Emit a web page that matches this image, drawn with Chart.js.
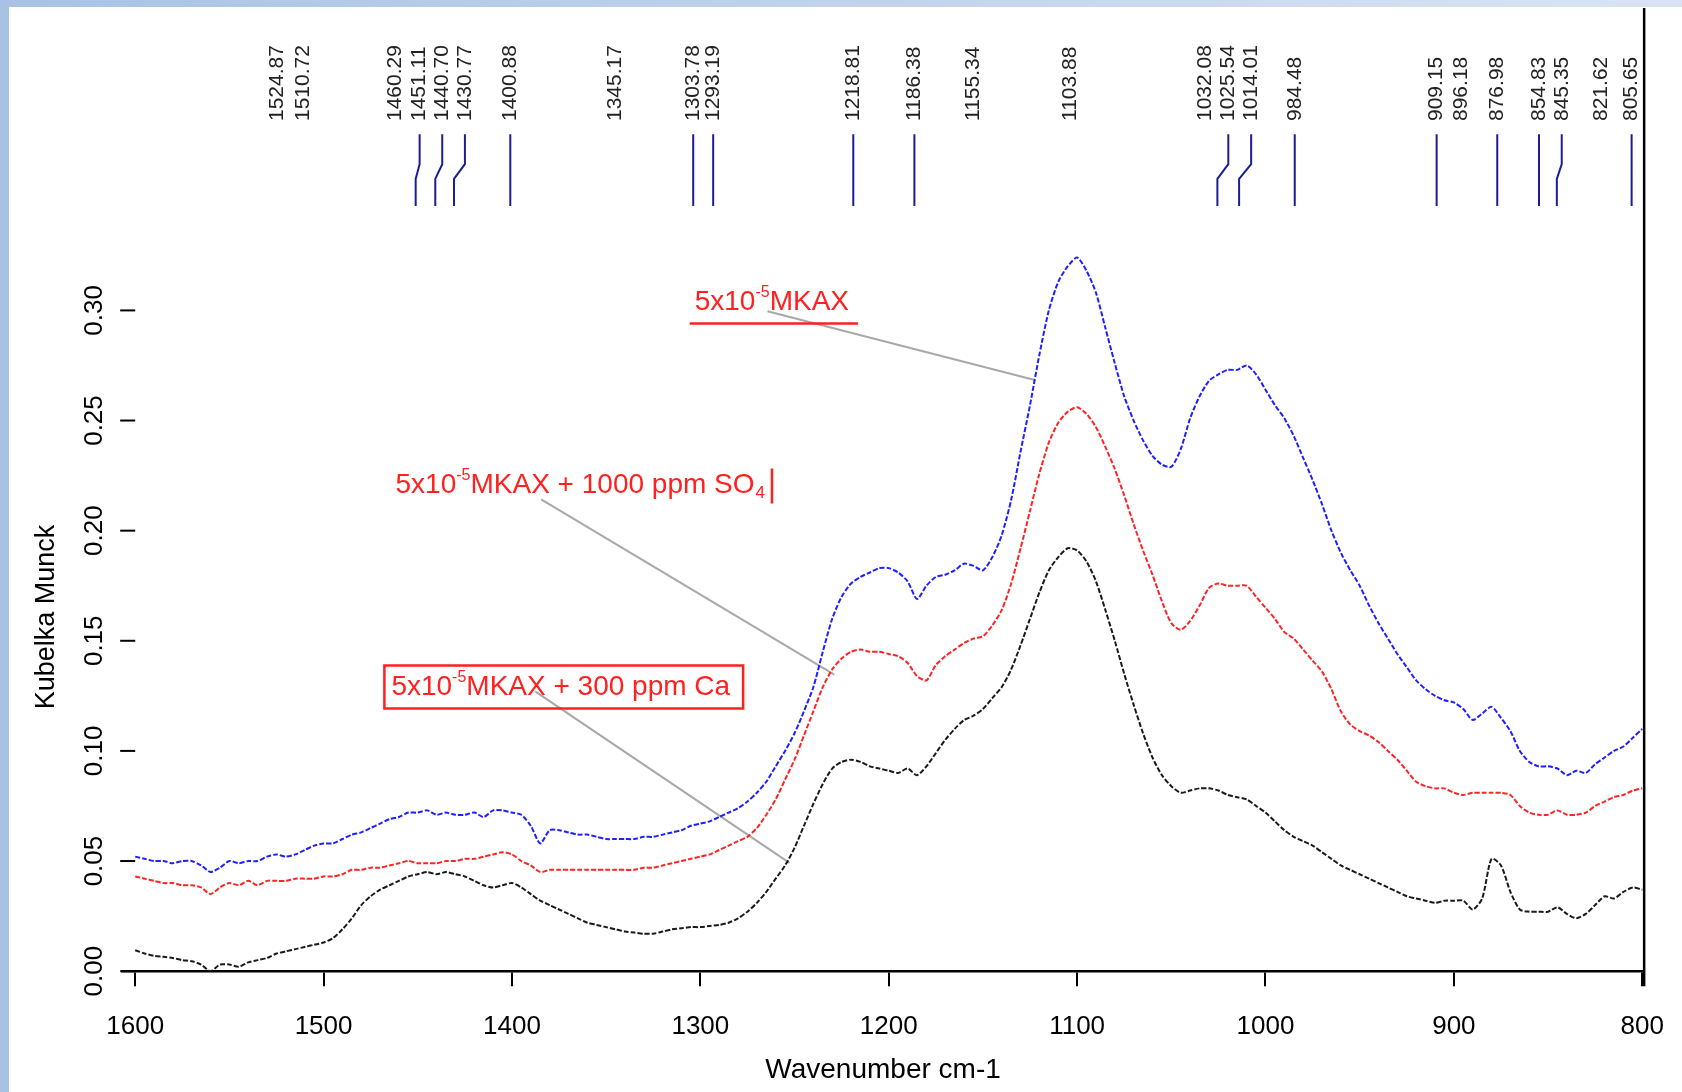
<!DOCTYPE html>
<html>
<head>
<meta charset="utf-8">
<title>Kubelka Munck spectra</title>
<script src="https://cdn.jsdelivr.net/npm/chart.js@4.4.1/dist/chart.umd.min.js"></script>
<style>
  html, body { margin: 0; padding: 0; background: #c9d9ee; }
  #wrap { width: 1682px; height: 1092px; }
</style>
</head>
<body>
<div id="wrap"><canvas id="spectra" width="1682" height="1092"></canvas></div>
<script>
// sampling grid, 1600 -> 800 cm-1 every 5
const wavenumbers = [];
for (let w = 1600; w >= 800; w -= 5) wavenumbers.push(w);

// 5x10-5 MKAX
const mkax = [
  .052,.051,.050,.050,.049,.050,.050,.048,.045,.047,
  .050,.049,.050,.050,.052,.053,.052,.053,.055,.057,
  .058,.058,.060,.062,.063,.065,.067,.069,.070,.072,
  .072,.073,.071,.072,.071,.071,.072,.070,.073,.073,
  .072,.071,.066,.058,.064,.064,.063,.062,.062,.061,
  .060,.060,.060,.060,.061,.061,.062,.063,.064,.066,
  .067,.068,.070,.072,.074,.077,.081,.086,.093,.100,
  .108,.118,.129,.145,.160,.170,.176,.179,.181,.183,
  .183,.181,.177,.169,.175,.179,.180,.182,.185,.184,
  .182,.188,.198,.214,.236,.257,.280,.300,.313,.320,
  .324,.318,.308,.292,.276,.261,.250,.241,.234,.230,
  .229,.237,.251,.261,.268,.271,.273,.273,.275,.271,
  .264,.257,.251,.243,.233,.223,.212,.200,.190,.182,
  .175,.166,.158,.151,.144,.138,.132,.128,.125,.123,
  .122,.119,.114,.117,.120,.115,.109,.100,.095,.093,
  .093,.092,.089,.091,.090,.094,.097,.100,.102,.106,
  .110
];

// 5x10-5 MKAX + 1000 ppm SO4
const mkaxSO4 = [
  .043,.042,.041,.040,.040,.039,.039,.038,.035,.038,
  .040,.039,.041,.039,.041,.041,.041,.042,.042,.042,
  .043,.043,.044,.046,.046,.047,.047,.048,.049,.050,
  .049,.049,.049,.050,.050,.051,.051,.052,.053,.054,
  .053,.050,.048,.045,.046,.046,.046,.046,.046,.046,
  .046,.046,.046,.046,.047,.047,.048,.049,.050,.051,
  .052,.053,.055,.057,.059,.061,.065,.071,.078,.087,
  .096,.107,.118,.129,.137,.142,.145,.146,.145,.145,
  .144,.143,.140,.134,.132,.139,.143,.146,.149,.151,
  .152,.157,.164,.176,.192,.209,.226,.240,.249,.254,
  .256,.253,.247,.238,.228,.216,.203,.191,.180,.168,
  .158,.155,.159,.166,.174,.176,.175,.175,.175,.170,
  .165,.160,.154,.151,.146,.141,.136,.128,.118,.112,
  .109,.107,.104,.100,.096,.091,.086,.084,.083,.083,
  .081,.080,.081,.081,.081,.081,.080,.075,.072,.071,
  .071,.073,.071,.071,.072,.075,.077,.079,.080,.082,
  .083
];

// 5x10-5 MKAX + 300 ppm Ca
const mkaxCa = [
  .0095,.008,.007,.0065,.006,.005,.0045,.003,.000,.003,
  .003,.002,.004,.005,.006,.008,.009,.010,.011,.012,
  .013,.015,.019,.024,.030,.034,.037,.039,.041,.043,
  .044,.045,.044,.045,.044,.043,.041,.039,.038,.039,
  .040,.038,.035,.032,.030,.028,.026,.024,.022,.021,
  .020,.019,.018,.0175,.017,.017,.018,.019,.0195,.020,
  .020,.0205,.021,.022,.024,.027,.031,.036,.042,.048,
  .056,.066,.076,.085,.092,.095,.096,.095,.093,.092,
  .091,.090,.092,.089,.093,.099,.105,.110,.114,.116,
  .119,.124,.129,.137,.148,.160,.172,.182,.188,.192,
  .191,.186,.177,.164,.150,.135,.121,.108,.097,.089,
  .084,.081,.082,.083,.083,.082,.080,.079,.078,.075,
  .072,.068,.064,.061,.059,.057,.054,.051,.048,.046,
  .044,.042,.040,.038,.036,.034,.033,.032,.031,.032,
  .032,.032,.028,.033,.051,.048,.036,.028,.027,.027,
  .027,.029,.026,.024,.026,.030,.034,.033,.036,.038,
  .037
];

const xTicks = [1600, 1500, 1400, 1300, 1200, 1100, 1000, 900, 800];
const yTicks = [0.00, 0.05, 0.10, 0.15, 0.20, 0.25, 0.30];

// peak picks written across the top
const peakLabels = [1524.87, 1510.72, 1460.29, 1451.11, 1440.70, 1430.77, 1400.88, 1345.17,
  1303.78, 1293.19, 1218.81, 1186.38, 1155.34, 1103.88, 1032.08, 1025.54, 1014.01, 984.48,
  909.15, 896.18, 876.98, 854.83, 845.35, 821.62, 805.65];
// the ones that have a marker line
const peakMarks = [1451.11, 1440.70, 1430.77, 1400.88, 1303.78, 1293.19, 1218.81, 1186.38,
  1025.54, 1014.01, 984.48, 909.15, 876.98, 854.83, 845.35, 805.65];

// label shifts (cm-1) where labels were pushed apart
const labelShift = { 1460.29: 1.6, 1451.11: -2.1, 1440.70: -3.7, 1430.77: -5.8,
  1025.54: -5.8, 1014.01: -6.4, 845.35: -2.6 };
const markTop = 0.380, jogTop = 0.3664, jogBottom = 0.3597, markBottom = 0.3474;
const labelBase = 0.386;

const markerPts = [];
peakMarks.forEach(w => {
  const s = labelShift[w] || 0;
  markerPts.push({x: w + s, y: markTop}, {x: w + s, y: jogTop},
    {x: w, y: jogBottom}, {x: w, y: markBottom}, {x: w, y: null});
});

const pts = arr => wavenumbers.map((w, i) => ({x: w, y: arr[i]}));

const curve = (label, arr, color) => ({
  label: label, data: pts(arr), borderColor: color, borderWidth: 2,
  borderDash: [5, 2], pointRadius: 0, tension: 0.25, showLine: true
});
const leader = (a, b) => ({
  data: [a, b], borderColor: '#a8a8a8', borderWidth: 2, pointRadius: 0, showLine: true
});

// callout texts, anchored at their left / middle
const callouts = [
  { x: 1303.0, y: 0.3036, tail: 'MKAX', kind: 'underline' },
  { x: 1461.8, y: 0.2205, tail: 'MKAX + 1000 ppm SO', sub: '4', kind: 'bar' },
  { x: 1464.0, y: 0.1288, tail: 'MKAX + 300 ppm Ca', kind: 'box' }
];

Chart.defaults.font.family = '"Liberation Sans", Arial, sans-serif';

function drawRich(ctx, x, y, c) {
  ctx.textBaseline = 'middle';
  ctx.textAlign = 'left';
  ctx.font = '28px "Liberation Sans", Arial';
  ctx.fillText('5x10', x, y);
  let cx = x + ctx.measureText('5x10').width;
  ctx.font = '16px "Liberation Sans", Arial';
  ctx.fillText('-5', cx, y - 10);
  cx += ctx.measureText('-5').width;
  ctx.font = '28px "Liberation Sans", Arial';
  ctx.fillText(c.tail, cx, y);
  cx += ctx.measureText(c.tail).width;
  if (c.sub) {
    ctx.font = '17px "Liberation Sans", Arial';
    ctx.fillText(c.sub, cx + 1, y + 8);
    cx += ctx.measureText(c.sub).width + 1;
  }
  return cx - x;
}

const decor = {
  id: 'decor',
  beforeDraw(chart) {
    const {ctx, width, height} = chart;
    ctx.save();
    const g = ctx.createLinearGradient(0, 0, width, 0);
    g.addColorStop(0, '#a9c2e4');
    g.addColorStop(1, '#d8e4f3');
    ctx.fillStyle = g;
    ctx.fillRect(0, 0, width, height);
    ctx.fillStyle = '#ffffff';
    ctx.fillRect(9, 7, width - 9, height - 7);
    ctx.restore();
  },
  afterDraw(chart) {
    const {ctx, chartArea} = chart;
    const xs = chart.scales.x, ys = chart.scales.y;
    const x0 = xs.getPixelForValue(1600);
    ctx.save();

    // right frame line
    ctx.strokeStyle = '#000';
    ctx.lineWidth = 2.5;
    ctx.beginPath();
    ctx.moveTo(chartArea.right, chartArea.top);
    ctx.lineTo(chartArea.right, chartArea.bottom + 15);
    ctx.stroke();

    // y ticks, rotated labels
    ctx.lineWidth = 2;
    ctx.fillStyle = '#000';
    ctx.font = '26px "Liberation Sans", Arial';
    yTicks.forEach(v => {
      const y = ys.getPixelForValue(v);
      ctx.beginPath();
      ctx.moveTo(x0 - 15, y);
      ctx.lineTo(x0, y);
      ctx.stroke();
      ctx.save();
      ctx.translate(x0 - 40, y);
      ctx.rotate(-Math.PI / 2);
      ctx.textAlign = 'center';
      ctx.textBaseline = 'middle';
      ctx.fillText(v.toFixed(2), 0, 0);
      ctx.restore();
    });
    ctx.save();
    ctx.translate(47, 617);
    ctx.rotate(-Math.PI / 2);
    ctx.textAlign = 'center';
    ctx.textBaseline = 'middle';
    ctx.font = '27px "Liberation Sans", Arial';
    ctx.fillText('Kubelka Munck', 0, 0);
    ctx.restore();

    // peak labels
    ctx.fillStyle = '#222';
    ctx.font = '21px "Liberation Sans", Arial';
    const yb = ys.getPixelForValue(labelBase);
    peakLabels.forEach(w => {
      const x = xs.getPixelForValue(w + (labelShift[w] || 0));
      ctx.save();
      ctx.translate(x, yb);
      ctx.rotate(-Math.PI / 2);
      ctx.textAlign = 'left';
      ctx.textBaseline = 'middle';
      ctx.fillText(w.toFixed(2), 0, 0);
      ctx.restore();
    });

    // callouts
    ctx.fillStyle = '#ff2020';
    ctx.strokeStyle = '#ff2020';
    ctx.lineWidth = 2.5;
    callouts.forEach(c => {
      const x = xs.getPixelForValue(c.x), y = ys.getPixelForValue(c.y);
      const w = drawRich(ctx, x, y, c);
      ctx.beginPath();
      if (c.kind === 'underline') {
        ctx.moveTo(x - 5, y + 21);
        ctx.lineTo(x + w + 9, y + 21);
      } else if (c.kind === 'bar') {
        ctx.moveTo(x + w + 7, y - 17);
        ctx.lineTo(x + w + 7, y + 18);
      } else {
        ctx.rect(x - 7, y - 22, w + 20, 43);
      }
      ctx.stroke();
    });
    ctx.restore();
  }
};

new Chart(document.getElementById('spectra'), {
  type: 'scatter',
  data: {
    datasets: [
      curve('5x10-5 MKAX', mkax, '#1f1fff'),
      curve('5x10-5 MKAX + 1000 ppm SO4', mkaxSO4, '#ff2424'),
      curve('5x10-5 MKAX + 300 ppm Ca', mkaxCa, '#1a1a1a'),
      { data: markerPts, borderColor: '#1c1c96', borderWidth: 2, pointRadius: 0,
        showLine: true, spanGaps: false },
      leader({x: 1264.4, y: 0.2996}, {x: 1122.5, y: 0.2684}),
      leader({x: 1384.5, y: 0.2142}, {x: 1228.9, y: 0.1346}),
      leader({x: 1387.7, y: 0.1270}, {x: 1252.7, y: 0.0492})
    ]
  },
  options: {
    responsive: false,
    devicePixelRatio: 1,
    animation: false,
    layout: { padding: { left: 122, right: 33, top: 8, bottom: 5 } },
    plugins: { legend: { display: false }, tooltip: { enabled: false } },
    scales: {
      x: {
        type: 'linear', reverse: true, min: 799, max: 1607,
        afterBuildTicks: s => { s.ticks = xTicks.map(v => ({ value: v })); },
        grid: { drawOnChartArea: false, tickLength: 15, color: '#000', lineWidth: 2 },
        border: { display: true, color: '#000', width: 2.5 },
        ticks: { color: '#000', font: { size: 26, lineHeight: 1.74 }, padding: 18, maxRotation: 0,
          autoSkip: false, callback: v => String(v) },
        title: { display: true, text: 'Wavenumber cm-1', color: '#000', font: { size: 28 },
          padding: { top: -14, bottom: 0 } }
      },
      y: { type: 'linear', display: false, min: 0, max: 0.4373 }
    }
  },
  plugins: [decor]
});
</script>
</body>
</html>
